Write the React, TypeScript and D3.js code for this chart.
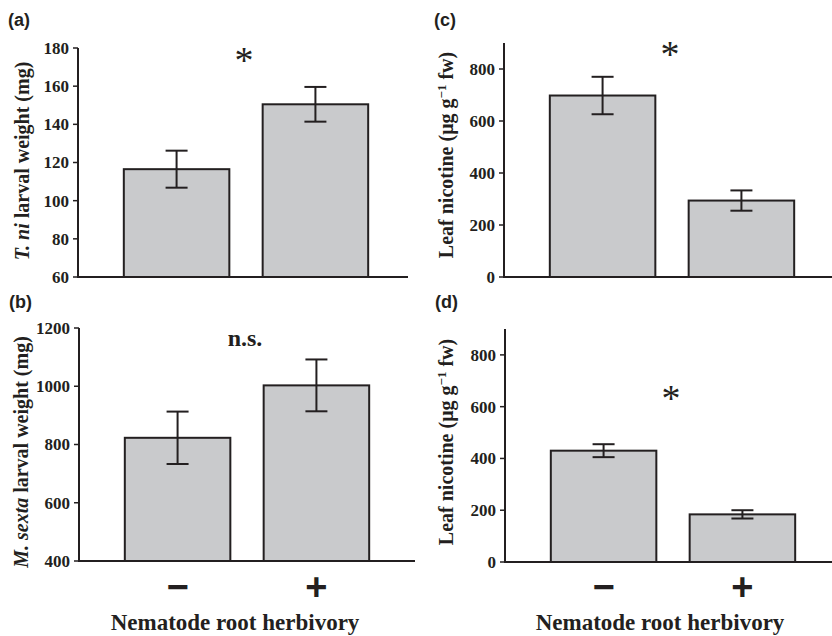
import React from 'react';
import * as d3 from 'd3';

// treatment groups (nematode root herbivory)
const groups = ['\u2212', '+'];

// (a) T. ni larval weight (mg)
const tniWeight = [116.5, 150.5];
const tniSE = [9.7, 9.1];
const tniTicks = [60, 80, 100, 120, 140, 160, 180];

// (b) M. sexta larval weight (mg)
const msextaWeight = [823, 1003];
const msextaSE = [90, 89];
const msextaTicks = [400, 600, 800, 1000, 1200];

// (c) leaf nicotine, T. ni experiment
const nicotineC = [698, 294];
const nicotineCSE = [72, 39];
// (d) leaf nicotine, M. sexta experiment
const nicotineD = [430, 184];
const nicotineDSE = [25, 16];
const nicotineTicks = [0, 200, 400, 600, 800];

const SERIF = '"Liberation Serif", "Times New Roman", serif';
const SANS = '"Liberation Sans", Arial, sans-serif';
const INK = '#231f20';
const BAR_FILL = '#c9cacc';

type PanelProps = {
  tag: string;
  values: number[];
  se: number[];
  ticks: number[];
  domain: [number, number];
  left: number;
  right: number;
  top: number;
  bottom: number;
  title: React.ReactNode;
  titleX: number;
  titleY: number;
  sig: string;
  sigAt: number; // data units, where the sign's baseline sits
  sigSize: number;
  sigWeight: string;
  tagY: number;
  showGroups?: boolean;
};

const Panel = (p: PanelProps) => {
  const y = d3.scaleLinear().domain(p.domain).range([p.bottom, p.top]);
  const x = d3.scaleBand().domain(groups).range([p.left, p.left + 336])
    .paddingInner(0.24).paddingOuter(0.33);
  const bw = x.bandwidth();
  const midGap = (x(groups[0])! + bw + x(groups[1])!) / 2;

  return (
    <g>
      <text x={p.left - 70} y={p.tagY} fontFamily={SANS} fontWeight="bold" fontSize={18} fill={INK}>{p.tag}</text>

      {groups.map((g, i) => (
        <g key={g}>
          <rect x={x(g)} y={y(p.values[i])} width={bw} height={y(p.domain[0]) - y(p.values[i])}
            fill={BAR_FILL} stroke={INK} strokeWidth={2} />
          <line x1={x(g)! + bw / 2} x2={x(g)! + bw / 2}
            y1={y(p.values[i] + p.se[i])} y2={y(p.values[i] - p.se[i])} stroke={INK} strokeWidth={2} />
          {[1, -1].map(s => (
            <line key={s} x1={x(g)! + bw / 2 - 11} x2={x(g)! + bw / 2 + 11}
              y1={y(p.values[i] + s * p.se[i])} y2={y(p.values[i] + s * p.se[i])}
              stroke={INK} strokeWidth={2} />
          ))}
          {p.showGroups && (
            <text x={x(g)! + bw / 2} y={600} textAnchor="middle" fontFamily={SANS}
              fontWeight="bold" fontSize={38} fill={INK}>{g}</text>
          )}
        </g>
      ))}

      {/* axes */}
      <line x1={p.left} x2={p.left} y1={p.top} y2={p.bottom} stroke={INK} strokeWidth={2} />
      <line x1={p.left - 1} x2={p.right} y1={p.bottom} y2={p.bottom} stroke={INK} strokeWidth={2} />
      {p.ticks.map(t => (
        <g key={t}>
          <line x1={p.left - 5} x2={p.left} y1={y(t)} y2={y(t)} stroke={INK} strokeWidth={1.5} />
          <text x={p.left - 9} y={y(t)} dy="0.35em" textAnchor="end" fontFamily={SERIF}
            fontWeight="bold" fontSize={17} fill={INK}>{t}</text>
        </g>
      ))}

      <text transform={`translate(${p.titleX},${p.titleY}) rotate(-90)`} textAnchor="middle"
        fontFamily={SERIF} fontWeight="bold" fontSize={20} fill={INK}>{p.title}</text>

      <text x={midGap - 2} y={y(p.sigAt)} textAnchor="middle" fontFamily={SERIF} fontWeight={p.sigWeight}
        fontSize={p.sigSize} fill={INK}>{p.sig}</text>
    </g>
  );
};

const nicotineTitle = (
  <>
    <tspan>Leaf nicotine (μg g</tspan>
    <tspan fontSize={13} dy={-7}>−1</tspan>
    <tspan dy={7}> fw)</tspan>
  </>
);

export default function App() {
  return (
    <svg width={832} height={636} style={{ position: 'absolute', left: 0, top: 0, background: '#fff' }}>
      <Panel tag="(a)" tagY={26} values={tniWeight} se={tniSE} ticks={tniTicks} domain={[60, 180]}
        left={78} right={408} top={48} bottom={277}
        title={<><tspan fontStyle="italic">T. ni</tspan> larval weight (mg)</>} titleX={29} titleY={161}
        sig="*" sigAt={167} sigSize={38} sigWeight="normal" />
      <Panel tag="(b)" tagY={308} values={msextaWeight} se={msextaSE} ticks={msextaTicks} domain={[400, 1200]}
        left={79} right={415} top={328} bottom={561}
        title={<><tspan fontStyle="italic">M. sexta</tspan> larval weight (mg)</>} titleX={28} titleY={452}
        sig="n.s." sigAt={1137} sigSize={24} sigWeight="bold" showGroups />
      <Panel tag="(c)" tagY={26} values={nicotineC} se={nicotineCSE} ticks={nicotineTicks} domain={[0, 900]}
        left={504} right={832} top={43} bottom={277}
        title={nicotineTitle} titleX={453} titleY={155}
        sig="*" sigAt={808} sigSize={38} sigWeight="normal" />
      <Panel tag="(d)" tagY={308} values={nicotineD} se={nicotineDSE} ticks={nicotineTicks} domain={[0, 900]}
        left={505} right={832} top={329} bottom={562}
        title={nicotineTitle} titleX={453} titleY={442}
        sig="*" sigAt={585} sigSize={38} sigWeight="normal" showGroups />

      <text x={235} y={630} textAnchor="middle" fontFamily={SERIF} fontWeight="bold" fontSize={23} fill={INK}>
        Nematode root herbivory
      </text>
      <text x={660} y={630} textAnchor="middle" fontFamily={SERIF} fontWeight="bold" fontSize={23} fill={INK}>
        Nematode root herbivory
      </text>
    </svg>
  );
}
